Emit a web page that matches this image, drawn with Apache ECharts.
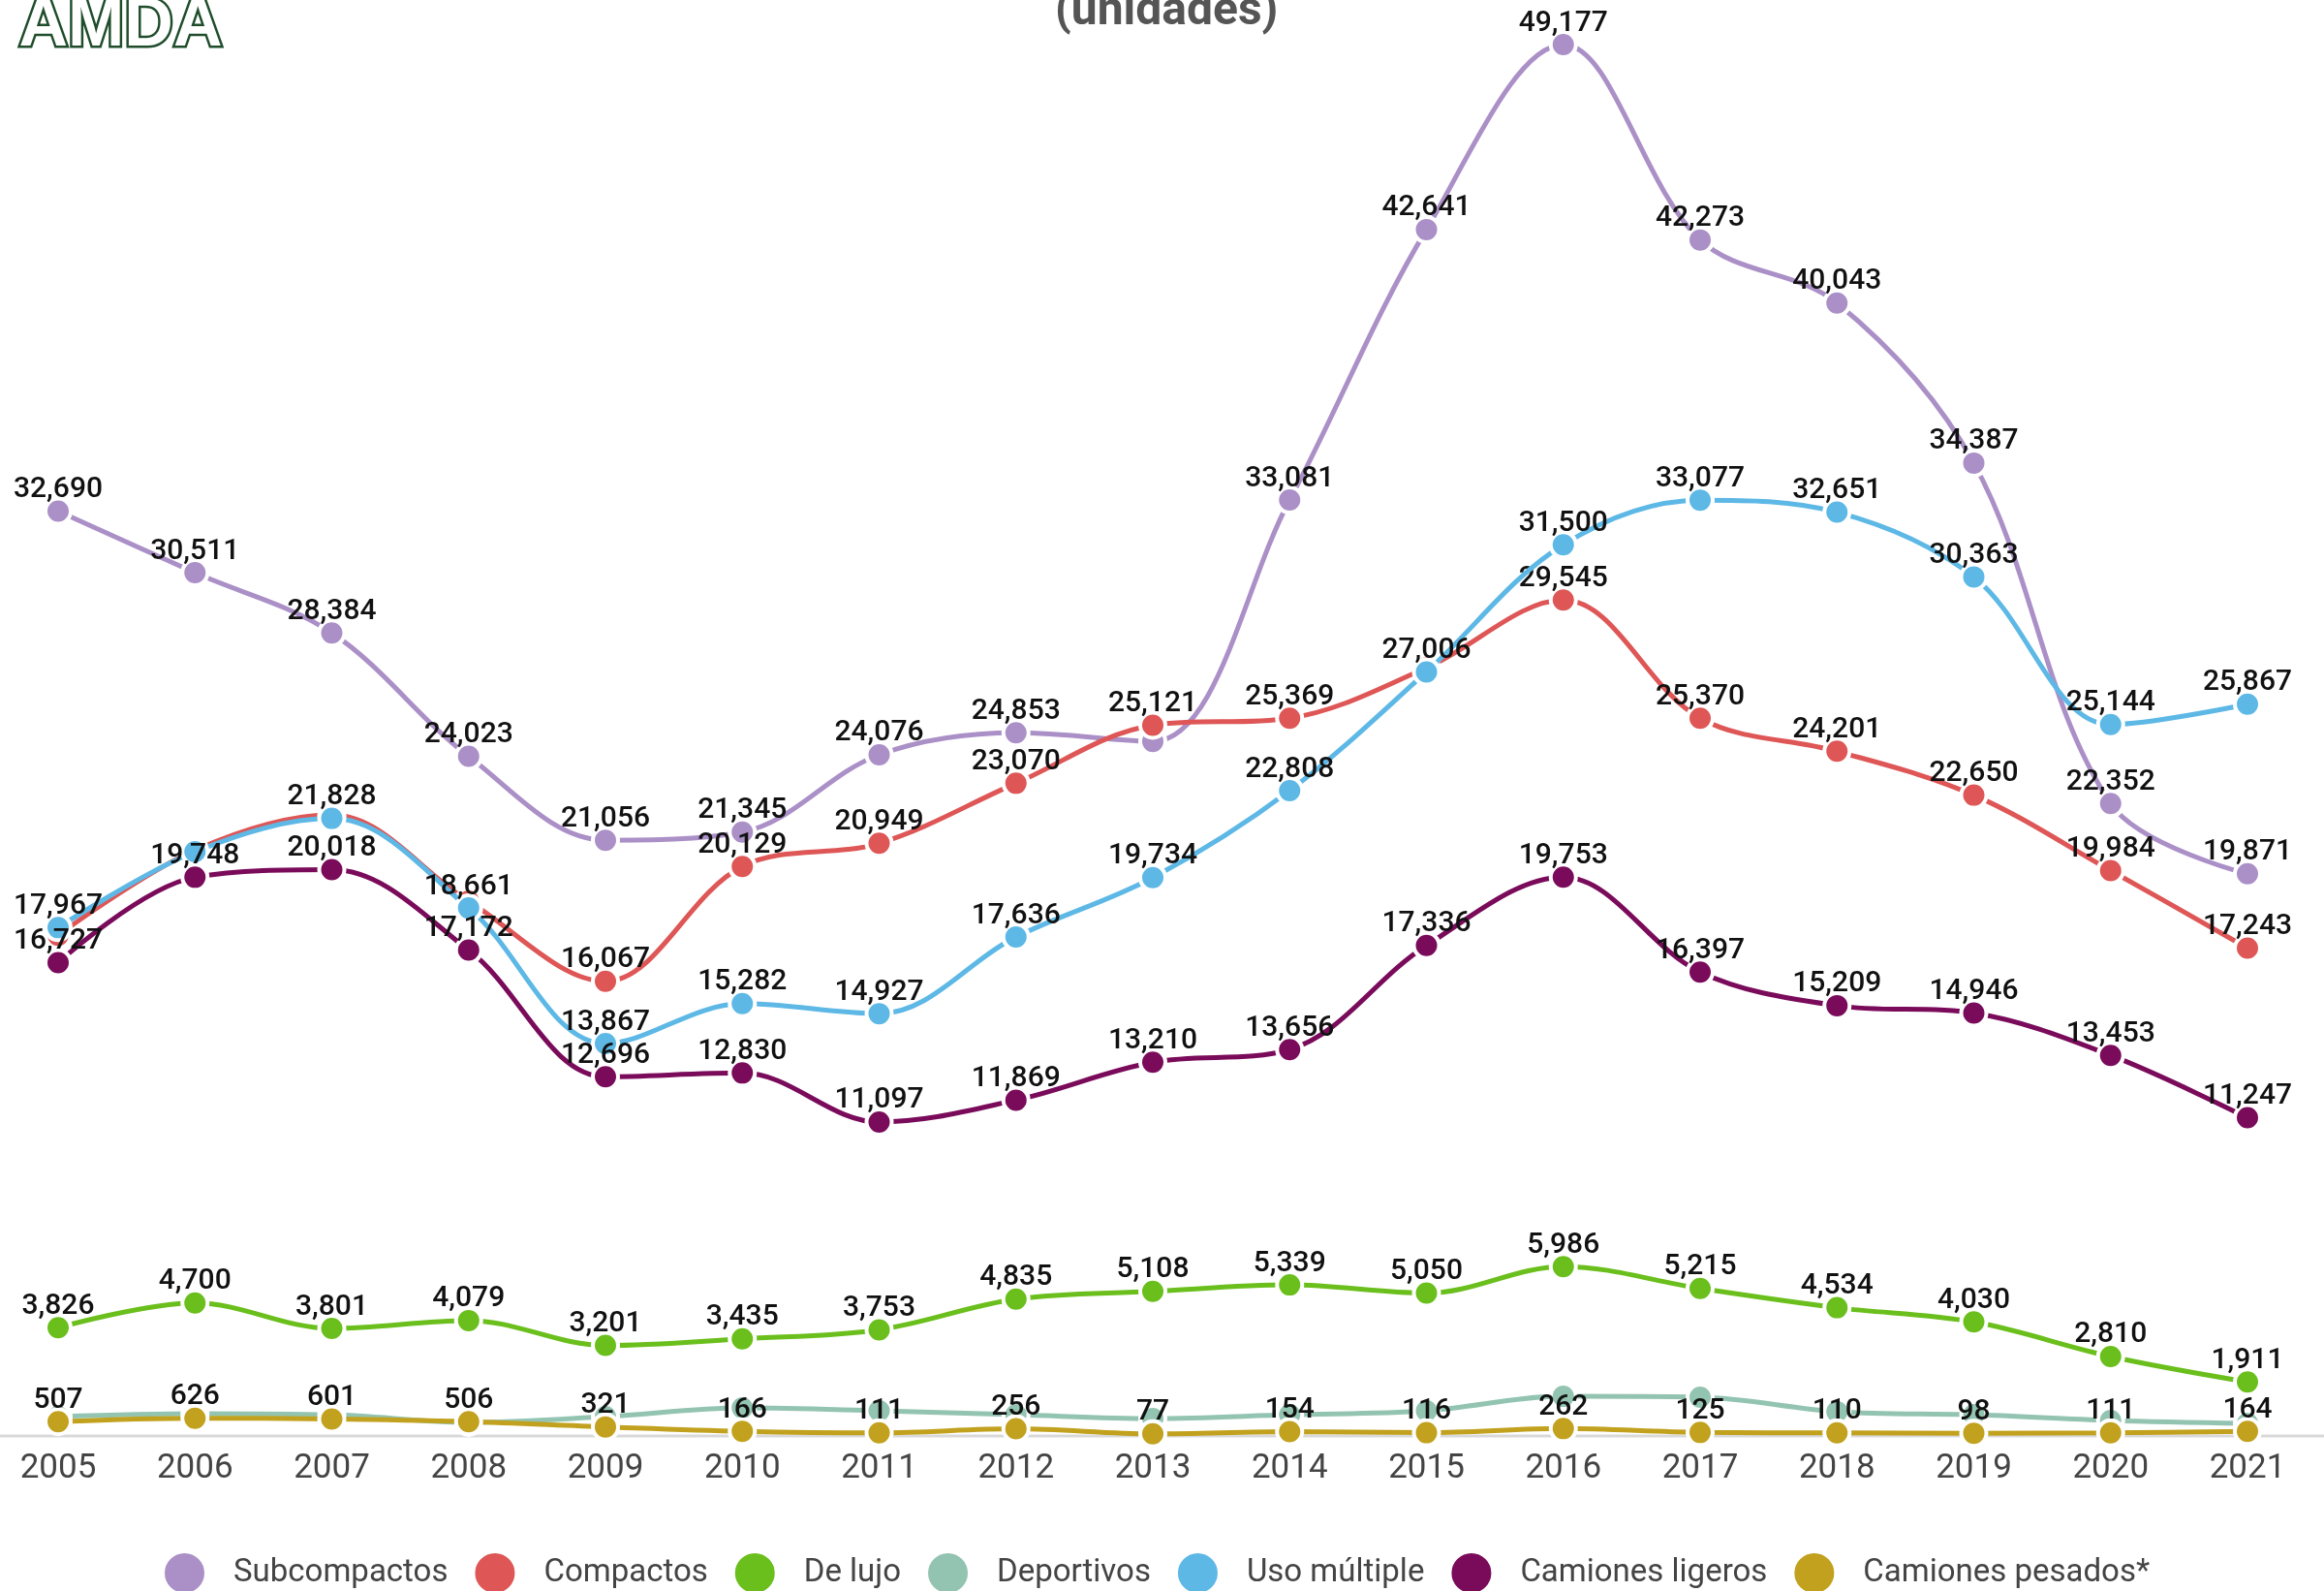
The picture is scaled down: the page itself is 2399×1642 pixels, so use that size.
<!DOCTYPE html>
<html>
<head>
<meta charset="utf-8">
<script src="https://cdn.jsdelivr.net/npm/echarts@6/dist/echarts.min.js"></script>
<style>
  html, body { margin: 0; padding: 0; background: #ffffff; }
  #chart { width: 2399px; height: 1642px; }
</style>
</head>
<body>
<div id="chart"></div>
<script>
// ---- data ----
const years = ['2005','2006','2007','2008','2009','2010','2011','2012','2013','2014','2015','2016','2017','2018','2019','2020','2021'];
const seriesNames = ['Subcompactos','Compactos','De lujo','Deportivos','Uso múltiple','Camiones ligeros','Camiones pesados*'];
const subcompactos    = [32690,30511,28384,24023,21056,21345,24076,24853,24550,33081,42641,49177,42273,40043,34387,22352,19871];
const compactos       = [17700,20700,21950,18900,16067,20129,20949,23070,25121,25369,27150,29545,25370,24201,22650,19984,17243];
const deLujo          = [3826,4700,3801,4079,3201,3435,3753,4835,5108,5339,5050,5986,5215,4534,4030,2810,1911];
const deportivos      = [685,790,750,480,685,990,890,750,615,750,890,1400,1370,860,750,550,445];
const usoMultiple     = [17967,20650,21828,18661,13867,15282,14927,17636,19734,22808,27006,31500,33077,32651,30363,25144,25867];
const camionesLigeros = [16727,19748,20018,17172,12696,12830,11097,11869,13210,13656,17336,19753,16397,15209,14946,13453,11247];
const camionesPesados = [507,626,601,506,321,166,111,256,77,154,116,262,125,110,98,111,164];

// ---- styles ----
const colors = ['#ab90c7','#de5656','#6abf1c','#93c4b2','#5db8e6','#7a0b5b','#c1a11d'];
const values = [subcompactos, compactos, deLujo, deportivos, usoMultiple, camionesLigeros, camionesPesados];
const showLabels = [true, true, true, false, true, true, true];

const fmt = v => String(v).replace(/\B(?=(\d{3})+(?!\d))/g, ',');

const chart = echarts.init(document.getElementById('chart'), null, { renderer: 'canvas' });

// later series inserted first so their labels win overlaps; z keeps the draw order
const series = [];
for (let i = seriesNames.length - 1; i >= 0; i--) {
  series.push({
    name: seriesNames[i],
    type: 'line',
    data: values[i],
    z: 2 + i,
    smooth: 0.35,
    symbol: 'circle',
    symbolSize: 26,
    lineStyle: { width: 5, color: colors[i] },
    itemStyle: { color: colors[i], borderColor: '#ffffff', borderWidth: 4 },
    label: {
      show: showLabels[i],
      position: 'top',
      distance: -8,
      fontFamily: 'Roboto',
      fontWeight: 500,
      fontSize: 30,
      color: '#111111',
      formatter: p => fmt(p.value)
    },
    labelLayout: { hideOverlap: true },
    emphasis: { disabled: true }
  });
}

chart.setOption({
  animation: false,
  backgroundColor: '#ffffff',
  color: colors,
  grid: { left: 60, right: 79, top: 22, bottom: 160 },
  xAxis: {
    type: 'category',
    data: years,
    boundaryGap: false,
    axisLine: { show: false },
    axisTick: { show: false },
    splitLine: { show: false },
    axisLabel: { fontFamily: 'Roboto', fontSize: 35, color: '#444444', margin: 17, interval: 0 }
  },
  yAxis: {
    type: 'value',
    min: 0,
    max: 50000,
    show: false,
    splitLine: { show: false }
  },
  legend: {
    data: seriesNames,
    left: 168,
    top: 1601,
    padding: 0,
    icon: 'circle',
    itemWidth: 43,
    itemHeight: 43,
    itemGap: 26,
    textStyle: { fontFamily: 'Roboto', fontSize: 33, color: '#444444', padding: [0, 0, 0, 24] }
  },
  graphic: [
    {
      type: 'line',
      z: 1,
      shape: { x1: 0, y1: 1482, x2: 2399, y2: 1482 },
      style: { stroke: '#d9d9d9', lineWidth: 3 },
      silent: true
    },
    {
      type: 'text',
      left: 1089,
      top: -11,
      style: {
        text: '(unidades)',
        fontFamily: 'Roboto',
        fontWeight: 'bold',
        fontSize: 48,
        fill: '#555555'
      }
    },
    {
      type: 'text',
      left: 17,
      top: -10,
      style: {
        text: 'AMDA',
        fontFamily: 'Liberation Sans',
        fontWeight: 'bold',
        fontSize: 70,
        fill: '#ffffff',
        stroke: '#1f4d2b',
        lineWidth: 5
      }
    }
  ],
  series: series
});
</script>
</body>
</html>
